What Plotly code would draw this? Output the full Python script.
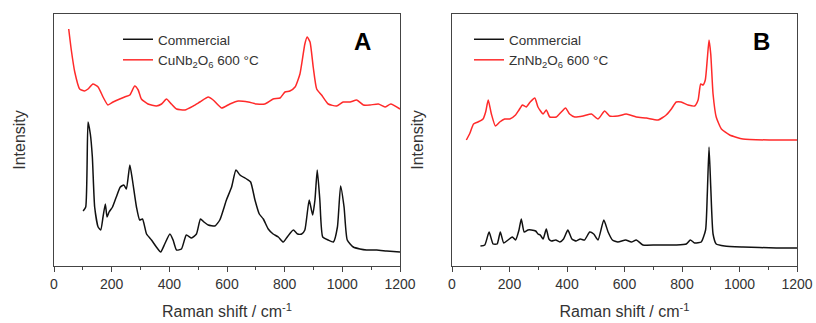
import plotly.graph_objects as go

# Panel A: CuNb2O6
a_red_x = [51, 60, 72, 89, 106, 118, 135, 153, 170, 187, 205, 228, 245, 263, 280, 292, 303, 326, 355, 373, 390, 407, 425, 454, 483, 506, 535, 552, 581, 610, 639, 674, 703, 731, 760, 784, 801, 818, 836, 853, 870, 878, 888, 899, 911, 928, 951, 980, 1003, 1027, 1050, 1073, 1096, 1125, 1148, 1168, 1200]
a_red_y = [237, 216, 194, 177, 175, 177, 182, 179, 169, 161, 164, 167, 169, 171, 180, 176, 167, 162, 160, 162, 167, 162, 157, 156, 160, 164, 169, 166, 158, 162, 165, 164, 162, 162, 167, 168, 174, 175, 179, 192, 222, 229, 224, 199, 177, 171, 162, 160, 164, 164, 166, 161, 161, 162, 159, 162, 157]

a_blk_x = [101, 110, 118, 126, 133, 141, 153, 162, 170, 178, 184, 191, 203, 216, 230, 242, 251, 263, 272, 286, 297, 307, 321, 338, 355, 370, 384, 402, 413, 425, 442, 459, 477, 494, 508, 520, 535, 558, 575, 598, 616, 631, 645, 668, 682, 697, 712, 726, 743, 760, 778, 795, 809, 830, 845, 859, 870, 885, 897, 905, 913, 922, 932, 951, 969, 983, 994, 1006, 1017, 1038, 1061, 1084, 1119, 1154, 1200]
a_blk_y = [55, 59, 144, 132, 109, 59, 39, 36, 49, 62, 49, 54, 59, 69, 79, 81, 77, 101, 86, 59, 46, 47, 32, 26, 19, 14, 22, 32, 26, 16, 17, 31, 28, 32, 47, 44, 41, 40, 46, 66, 79, 96, 91, 87, 84, 66, 52, 47, 37, 32, 29, 24, 29, 36, 32, 32, 36, 66, 51, 66, 96, 66, 29, 26, 24, 39, 80, 59, 26, 19, 17, 16, 16, 15, 14]

# Panel B: ZnNb2O6
b_red_x = [50, 61, 75, 90, 108, 117, 126, 137, 151, 166, 183, 201, 221, 233, 245, 258, 272, 288, 299, 317, 328, 340, 363, 380, 395, 409, 427, 456, 485, 508, 531, 548, 577, 606, 641, 676, 717, 745, 763, 780, 797, 821, 844, 856, 865, 873, 881, 888, 894, 900, 908, 919, 937, 966, 1012, 1105, 1200]
b_red_y = [126, 132, 142, 144, 147, 154, 166, 152, 140, 144, 147, 147, 151, 156, 161, 159, 164, 168, 159, 152, 156, 149, 149, 154, 158, 152, 149, 150, 152, 147, 155, 150, 150, 152, 149, 148, 146, 151, 157, 164, 164, 161, 160, 166, 182, 181, 186, 207, 226, 212, 172, 149, 137, 131, 127, 126, 126]

b_blk_x = [99, 114, 129, 143, 157, 168, 180, 195, 210, 221, 233, 241, 251, 264, 276, 291, 299, 307, 317, 328, 337, 346, 361, 375, 388, 403, 417, 432, 446, 461, 479, 493, 508, 528, 543, 558, 577, 604, 624, 641, 664, 711, 780, 815, 829, 844, 867, 882, 888, 894, 900, 908, 919, 948, 1012, 1128, 1200]
b_blk_y = [20, 21, 34, 22, 22, 34, 23, 26, 29, 26, 36, 47, 34, 36, 36, 35, 32, 31, 27, 37, 27, 25, 26, 24, 27, 36, 27, 25, 27, 26, 34, 32, 26, 46, 34, 26, 24, 26, 24, 26, 21, 21, 21, 22, 26, 23, 24, 36, 72, 119, 79, 32, 22, 20, 19, 18, 18]

x_ticks = [0, 200, 400, 600, 800, 1000, 1200]
legend_a = ["Commercial", "CuNb<sub>2</sub>O<sub>6</sub> 600 °C"]
legend_b = ["Commercial", "ZnNb<sub>2</sub>O<sub>6</sub> 600 °C"]

FONT = "Arial, 'Liberation Sans', sans-serif"
RED = "#ff2a2a"
BLACK = "#111111"
AX = "#444444"
TXT = "#333333"

fig = go.Figure()
lw = 1.5
fig.add_trace(go.Scatter(x=a_blk_x, y=a_blk_y, mode="lines", name=legend_a[0],
                         line=dict(color=BLACK, width=lw, shape="spline", smoothing=0.5),
                         xaxis="x", yaxis="y", legend="legend"))
fig.add_trace(go.Scatter(x=a_red_x, y=a_red_y, mode="lines", name=legend_a[1],
                         line=dict(color=RED, width=lw, shape="spline", smoothing=0.5),
                         xaxis="x", yaxis="y", legend="legend"))
fig.add_trace(go.Scatter(x=b_blk_x, y=b_blk_y, mode="lines", name=legend_b[0],
                         line=dict(color=BLACK, width=lw, shape="spline", smoothing=0.5),
                         xaxis="x2", yaxis="y2", legend="legend2"))
fig.add_trace(go.Scatter(x=b_red_x, y=b_red_y, mode="lines", name=legend_b[1],
                         line=dict(color=RED, width=lw, shape="spline", smoothing=0.5),
                         xaxis="x2", yaxis="y2", legend="legend2"))

ydom = [57 / 323, 309 / 323]
xaxis_common = dict(range=[0, 1200], tickvals=x_ticks, ticks="outside", ticklen=5,
                    tickcolor=AX, showline=True, linecolor=AX, linewidth=1, mirror=True,
                    showgrid=False, zeroline=False, automargin=False,
                    minor=dict(ticks="outside", ticklen=3, dtick=100, tick0=0, tickcolor=AX),
                    tickfont=dict(family=FONT, size=14, color=TXT),
                    title=dict(text="Raman shift / cm<sup>-1</sup>",
                               font=dict(family=FONT, size=16, color=TXT), standoff=15))
yaxis_common = dict(range=[0, 252], showticklabels=False, ticks="", showline=True,
                    linecolor=AX, linewidth=1, mirror=True, showgrid=False, zeroline=False,
                    automargin=False,
                    title=dict(text="Intensity", font=dict(family=FONT, size=16, color=TXT),
                               standoff=23))

legend_common = dict(xanchor="left", yanchor="top", bgcolor="rgba(0,0,0,0)",
                     font=dict(family=FONT, size=13.5, color=TXT), tracegroupgap=0,
                     itemwidth=30)

fig.update_layout(
    width=816, height=323,
    margin=dict(l=0, r=0, t=0, b=0, autoexpand=False),
    paper_bgcolor="white", plot_bgcolor="white",
    xaxis=dict(domain=[54 / 816, 400 / 816], anchor="y", **xaxis_common),
    yaxis=dict(domain=ydom, anchor="x", **yaxis_common),
    xaxis2=dict(domain=[452 / 816, 797 / 816], anchor="y2", **xaxis_common),
    yaxis2=dict(domain=ydom, anchor="x2", **yaxis_common),
    legend=dict(x=118 / 816, y=1 - 24 / 323, **legend_common),
    legend2=dict(x=469 / 816, y=1 - 24 / 323, **legend_common),
    annotations=[
        dict(text="<b>A</b>", xref="paper", yref="paper", x=362 / 816, y=1 - 42 / 323,
             xanchor="center", yanchor="middle",
             showarrow=False, font=dict(family=FONT, size=24, color="black")),
        dict(text="<b>B</b>", xref="paper", yref="paper", x=761 / 816, y=1 - 42 / 323,
             xanchor="center", yanchor="middle",
             showarrow=False, font=dict(family=FONT, size=24, color="black")),
    ],
)

fig.write_html("out.html", config={"displayModeBar": False},
               post_script="document.body.style.margin='0';")
